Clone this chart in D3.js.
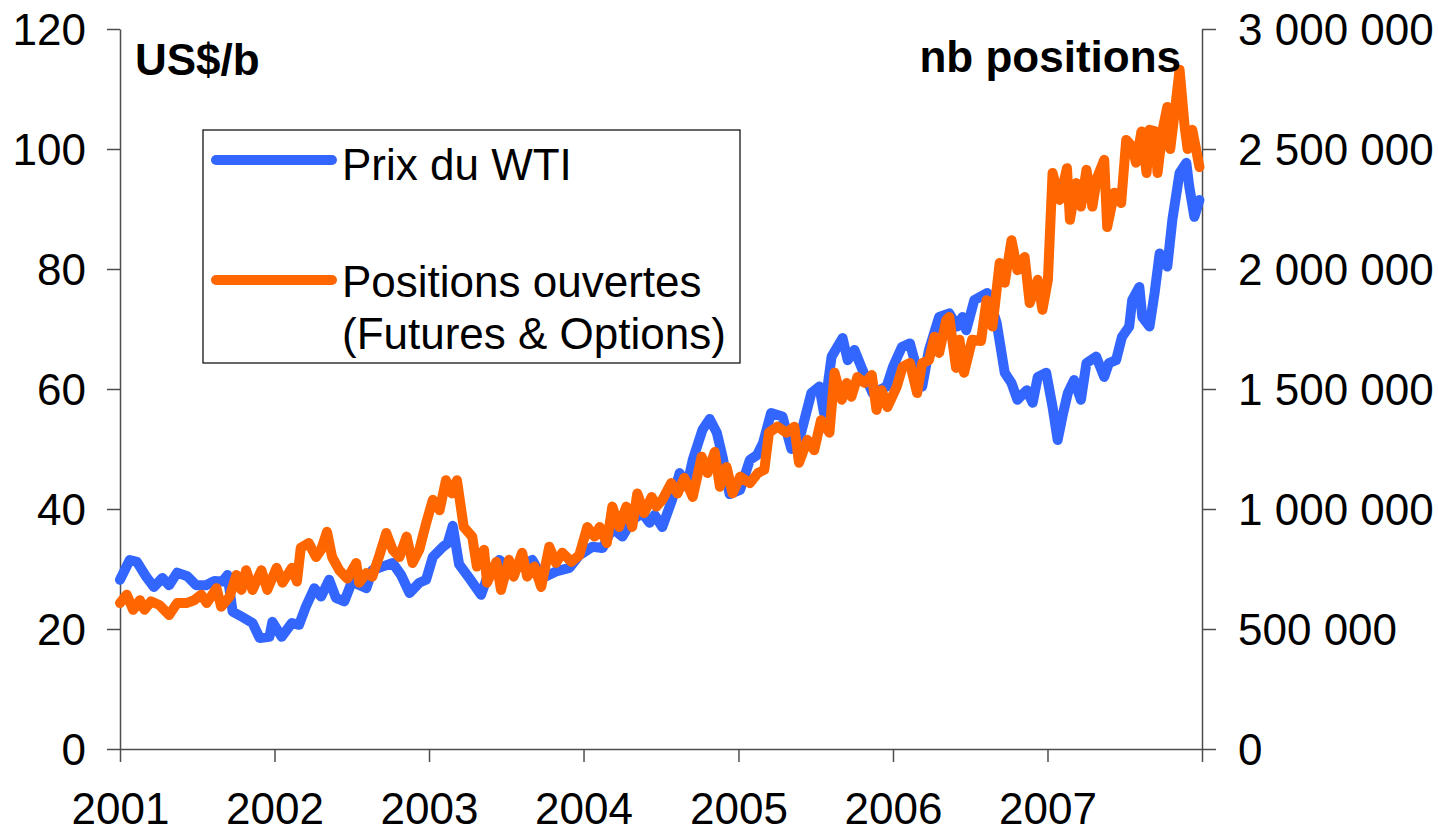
<!DOCTYPE html>
<meta charset="utf-8">
<title>WTI et positions ouvertes</title>
<script src="https://d3js.org/d3.v7.min.js"></script>
<style>
  body { margin: 0; background: #fff; }
  svg text { font-family: "Liberation Sans", Arial, sans-serif; fill: #000; }
</style>
<body>
<div id="chart"></div>
<script>
// --- data (weekly-ish readings) ---
var wtiDates = ["2001-01-01","2001-01-24","2001-02-10","2001-03-04","2001-03-22","2001-04-11","2001-04-27","2001-05-16","2001-06-09","2001-06-30",
  "2001-07-23","2001-08-12","2001-08-31","2001-09-12","2001-09-24","2001-10-17","2001-11-10","2001-11-27","2001-12-20","2001-12-27",
  "2002-01-18","2002-02-11","2002-02-28","2002-03-16","2002-04-05","2002-04-21","2002-05-10","2002-05-26","2002-06-15","2002-07-03",
  "2002-08-06","2002-08-20","2002-09-13","2002-10-07","2002-10-27","2002-11-16","2002-12-09","2002-12-25","2003-01-10","2003-02-03",
  "2003-02-14","2003-02-26","2003-03-13","2003-04-06","2003-05-04","2003-05-22","2003-06-16","2003-07-16","2003-08-09","2003-09-02",
  "2003-09-26","2003-10-28","2003-11-29","2003-12-22","2004-01-22","2004-02-15","2004-03-09","2004-04-02","2004-04-25","2004-05-19",
  "2004-06-05","2004-06-17","2004-07-05","2004-07-28","2004-08-15","2004-09-01","2004-09-15","2004-10-08","2004-10-25","2004-11-11",
  "2004-11-25","2004-12-11","2005-01-05","2005-01-28","2005-02-14","2005-02-28","2005-03-19","2005-04-15","2005-05-06","2005-05-29",
  "2005-06-22","2005-07-11","2005-07-22","2005-08-09","2005-09-04","2005-09-16","2005-10-02","2005-10-21","2005-11-14","2005-12-17",
  "2006-01-01","2006-01-22","2006-02-10","2006-02-27","2006-03-11","2006-03-27","2006-04-20","2006-05-14","2006-06-02","2006-06-14",
  "2006-06-23","2006-07-12","2006-08-12","2006-09-03","2006-09-22","2006-10-08","2006-10-22","2006-11-13","2006-11-27","2006-12-09",
  "2006-12-29","2007-01-13","2007-01-25","2007-02-07","2007-02-18","2007-03-05","2007-03-21","2007-04-03","2007-04-26","2007-05-15",
  "2007-05-26","2007-06-12","2007-06-26","2007-07-13","2007-07-20","2007-08-06","2007-08-13","2007-08-30","2007-09-11","2007-09-23",
  "2007-10-11","2007-10-23","2007-11-09","2007-11-25","2007-12-02","2007-12-14","2007-12-26"];
var wtiPrice = [28.2,31.5,31.2,28.7,27,28.5,27.3,29.4,28.8,27.3,
  27.3,28,27.9,29,22.9,22,21,18.5,18.7,21.2,
  18.7,21,20.7,23.7,26.8,25.4,28.2,25.2,24.6,27.9,
  26.8,29.8,30.4,31,29,26,27.7,28.2,32,33.7,
  34.3,37.2,30.8,28.5,25.7,29.3,31.5,29.8,30.7,31.5,
  28.5,29.6,30.2,32.3,33.7,33.5,36.8,35.4,38.2,39.3,
  37.7,39,37,41.5,46,43.7,48.2,53.2,55,52.7,
  48.5,42.5,43.2,48.2,49,51,56,55.4,50,52.7,
  59.3,60.4,56,65.4,68.5,64.8,66.5,63.2,59.3,60.4,
  63.7,67,67.6,63.2,60.4,66.5,72,72.6,70.4,72,
  69.8,74.8,76,71,62.7,61,58.2,59.8,57.7,62,
  62.7,57,51.5,56,59.3,61.5,58.2,64.3,65.4,62,
  64.3,64.8,68.7,70.4,74.8,77,72,70.4,76,82.6,
  80.4,88.2,96,97.7,93.7,88.7,91.5];

var posDates = ["2001-01-01","2001-01-17","2001-02-01","2001-02-17","2001-02-28","2001-03-15","2001-04-04","2001-04-27","2001-05-16","2001-06-07",
  "2001-06-25","2001-07-12","2001-07-25","2001-08-17","2001-08-28","2001-09-17","2001-10-03","2001-10-15","2001-10-26","2001-11-10",
  "2001-12-01","2001-12-15","2002-01-06","2002-01-20","2002-02-11","2002-02-23","2002-03-04","2002-03-23","2002-04-09","2002-04-21",
  "2002-05-05","2002-05-17","2002-06-03","2002-06-22","2002-07-13","2002-07-20","2002-08-06","2002-08-20","2002-09-06","2002-09-22",
  "2002-10-07","2002-10-23","2002-11-09","2002-11-23","2002-12-09","2002-12-25","2003-01-10","2003-01-26","2003-02-10","2003-02-24",
  "2003-03-08","2003-03-24","2003-04-13","2003-04-24","2003-05-11","2003-05-18","2003-06-09","2003-06-20","2003-07-09","2003-07-20",
  "2003-08-09","2003-08-21","2003-09-07","2003-09-23","2003-10-12","2003-10-28","2003-11-12","2003-12-03","2003-12-22","2004-01-10",
  "2004-01-27","2004-02-08","2004-02-25","2004-03-09","2004-03-25","2004-04-11","2004-04-25","2004-05-07","2004-05-23","2004-06-10",
  "2004-06-21","2004-07-05","2004-07-26","2004-08-10","2004-08-26","2004-09-15","2004-10-06","2004-10-20","2004-11-06","2004-11-18",
  "2004-12-04","2004-12-18","2005-01-05","2005-01-28","2005-02-16","2005-03-03","2005-03-14","2005-04-03","2005-04-24","2005-05-13",
  "2005-05-24","2005-06-13","2005-06-29","2005-07-15","2005-08-04","2005-08-16","2005-09-02","2005-09-14","2005-09-25","2005-10-09",
  "2005-10-26","2005-11-12","2005-11-23","2005-12-05","2005-12-19","2006-01-10","2006-01-24","2006-02-10","2006-02-27","2006-03-11",
  "2006-03-27","2006-04-09","2006-04-20","2006-05-07","2006-05-14","2006-05-30","2006-06-07","2006-06-18","2006-07-07","2006-07-28",
  "2006-08-10","2006-08-24","2006-09-10","2006-09-22","2006-10-08","2006-10-22","2006-11-08","2006-11-20","2006-12-09","2006-12-20",
  "2007-01-02","2007-01-13","2007-01-30","2007-02-16","2007-02-23","2007-03-10","2007-03-21","2007-04-03","2007-04-17","2007-04-28",
  "2007-05-15","2007-05-22","2007-06-08","2007-06-24","2007-07-06","2007-07-20","2007-07-29","2007-08-11","2007-08-23","2007-08-30",
  "2007-09-11","2007-09-18","2007-09-30","2007-10-11","2007-10-18","2007-10-30","2007-11-09","2007-11-21","2007-11-28","2007-12-09",
  "2007-12-26"];
var openPositions = [608000,643000,580000,620000,580000,615000,600000,558000,608000,608000,
  620000,643000,608000,670000,593000,635000,725000,663000,745000,663000,
  745000,663000,755000,693000,755000,698000,838000,858000,800000,830000,
  905000,800000,745000,710000,775000,693000,733000,718000,808000,900000,
  830000,800000,885000,775000,830000,940000,1038000,995000,1120000,1065000,
  1120000,925000,885000,760000,830000,693000,780000,663000,788000,718000,
  818000,718000,760000,675000,843000,775000,818000,780000,808000,925000,
  885000,925000,858000,1010000,925000,1010000,925000,1065000,983000,1050000,
  1010000,1038000,1108000,1065000,1130000,1050000,1218000,1150000,1238000,1093000,
  1175000,1065000,1135000,1108000,1150000,1163000,1318000,1343000,1318000,1343000,
  1193000,1288000,1245000,1370000,1318000,1568000,1455000,1525000,1468000,1550000,
  1525000,1558000,1413000,1495000,1425000,1510000,1593000,1608000,1483000,1608000,
  1620000,1718000,1650000,1788000,1800000,1588000,1705000,1568000,1705000,1700000,
  1870000,1760000,2025000,1943000,2120000,1995000,2050000,1858000,1955000,1830000,
  1955000,2400000,2288000,2420000,2205000,2358000,2260000,2413000,2260000,2380000,
  2455000,2175000,2318000,2275000,2538000,2510000,2443000,2573000,2400000,2580000,
  2575000,2400000,2580000,2675000,2500000,2675000,2830000,2593000,2500000,2580000,
  2425000];

var leftTicks = [0, 20, 40, 60, 80, 100, 120];
var rightTicks = [0, 500000, 1000000, 1500000, 2000000, 2500000, 3000000];
var yearTicks = [2001, 2002, 2003, 2004, 2005, 2006, 2007, 2008];
var labeledYears = [2001, 2002, 2003, 2004, 2005, 2006, 2007];
var seriesNames = ["Prix du WTI", "Positions ouvertes", "(Futures & Options)"];

// --- layout ---
var W = 1438, H = 831;
var plotLeft = 120, plotRight = 1202, plotTop = 29, plotBottom = 749;
var fontSize = 44;
var blue = "#3366ff", orange = "#ff6600", axisColor = "#4d4d4d";

var parse = d3.timeParse("%Y-%m-%d");
var wti = wtiDates.map(function(d, i) { return {date: parse(d), value: wtiPrice[i]}; });
var pos = posDates.map(function(d, i) { return {date: parse(d), value: openPositions[i]}; });

var svg = d3.select("#chart").append("svg")
  .attr("width", W)
  .attr("height", H);

var x = d3.scaleTime()
  .domain([new Date(2001, 0, 1), new Date(2008, 0, 1)])
  .range([plotLeft, plotRight]);
var yL = d3.scaleLinear().domain([0, 120]).range([plotBottom, plotTop]);
var yR = d3.scaleLinear().domain([0, 3000000]).range([plotBottom, plotTop]);

var fr = d3.formatLocale({decimal: ",", thousands: "\u00a0", grouping: [3], currency: ["", ""]});
var fmtR = fr.format(",d");

function styleAxis(g) {
  g.attr("font-size", null).attr("font-family", null);
  g.selectAll("path, line").attr("stroke", axisColor).attr("stroke-width", 1.5);
  g.selectAll("text").style("font-size", fontSize + "px");
}

// left axis
svg.append("g")
  .attr("transform", "translate(" + plotLeft + ",0)")
  .call(d3.axisLeft(yL).tickValues(leftTicks).tickSize(13).tickSizeOuter(0).tickPadding(21))
  .call(styleAxis)
  .selectAll("text").attr("dy", "0.36em");

// right axis
svg.append("g")
  .attr("transform", "translate(" + plotRight + ",0)")
  .call(d3.axisRight(yR).tickValues(rightTicks).tickFormat(fmtR).tickSize(14).tickSizeOuter(0).tickPadding(22))
  .call(styleAxis)
  .selectAll("text").attr("dy", "0.36em");

// bottom axis
svg.append("g")
  .attr("transform", "translate(0," + plotBottom + ")")
  .call(d3.axisBottom(x)
    .tickValues(yearTicks.map(function(y) { return new Date(y, 0, 1); }))
    .tickFormat(function(d) { return labeledYears.indexOf(d.getFullYear()) >= 0 ? d.getFullYear() : ""; })
    .tickSize(13).tickSizeOuter(0).tickPadding(31))
  .call(styleAxis)
  .selectAll("text").attr("dy", "0.71em");

// lines
var lineL = d3.line().x(function(d) { return x(d.date); }).y(function(d) { return yL(d.value); });
var lineR = d3.line().x(function(d) { return x(d.date); }).y(function(d) { return yR(d.value); });

svg.append("path")
  .datum(wti)
  .attr("d", lineL)
  .attr("fill", "none")
  .attr("stroke", blue)
  .attr("stroke-width", 10)
  .attr("stroke-linejoin", "round")
  .attr("stroke-linecap", "round");

svg.append("path")
  .datum(pos)
  .attr("d", lineR)
  .attr("fill", "none")
  .attr("stroke", orange)
  .attr("stroke-width", 10)
  .attr("stroke-linejoin", "round")
  .attr("stroke-linecap", "round");

// unit titles
svg.append("text")
  .attr("x", 135).attr("y", 75)
  .attr("font-weight", "bold")
  .style("font-size", fontSize + "px")
  .text("US$/b");

svg.append("text")
  .attr("x", 1181).attr("y", 72)
  .attr("text-anchor", "end")
  .attr("font-weight", "bold")
  .style("font-size", fontSize + "px")
  .text("nb positions");

// legend
var lg = svg.append("g");
lg.append("rect")
  .attr("x", 203).attr("y", 130)
  .attr("width", 537).attr("height", 233)
  .attr("fill", "#fff")
  .attr("stroke", "#000")
  .attr("stroke-width", 1.2);

lg.append("line")
  .attr("x1", 216).attr("x2", 332).attr("y1", 160).attr("y2", 160)
  .attr("stroke", blue).attr("stroke-width", 10).attr("stroke-linecap", "round");
lg.append("line")
  .attr("x1", 216).attr("x2", 332).attr("y1", 280).attr("y2", 280)
  .attr("stroke", orange).attr("stroke-width", 10).attr("stroke-linecap", "round");

lg.append("text").attr("x", 342).attr("y", 180).style("font-size", fontSize + "px").text(seriesNames[0]);
lg.append("text").attr("x", 342).attr("y", 297).style("font-size", fontSize + "px").text(seriesNames[1]);
lg.append("text").attr("x", 342).attr("y", 349).style("font-size", fontSize + "px").text(seriesNames[2]);
</script>
</body>
